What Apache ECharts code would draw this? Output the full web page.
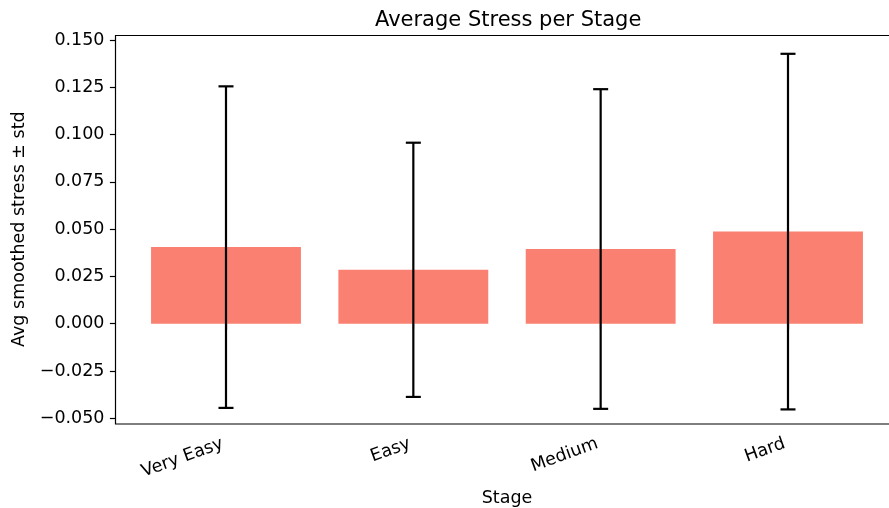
<!DOCTYPE html>
<html>
<head>
<meta charset="utf-8">
<script src="https://cdn.jsdelivr.net/npm/echarts@6/dist/echarts.min.js"></script>
<style>html,body{margin:0;padding:0;background:#fff}#c{width:889px;height:508px}</style>
</head>
<body>
<div id="c"></div>
<script>
const categories = ['Very Easy', 'Easy', 'Medium', 'Hard'];
const means = [0.0405, 0.0285, 0.0395, 0.0487];
const stds = [0.0850, 0.0672, 0.0845, 0.0940];
const yTicks = { min: -0.05, max: 0.15, interval: 0.025 };

const FONT = 'DejaVu Sans';
const chart = echarts.init(document.getElementById('c'), null, { renderer: 'canvas' });

const errData = categories.map((c, i) => [i, means[i], stds[i]]);

function fmt(v) {
  const s = Math.abs(v).toFixed(3);
  return v < -1e-9 ? '\u2212' + s : s;
}

chart.setOption({
  animation: false,
  backgroundColor: '#fff',
  title: {
    text: 'Average Stress per Stage',
    left: 370, top: 5,
    textStyle: { fontFamily: FONT, fontSize: 21, fontWeight: 'normal', color: '#000' }
  },
  grid: { left: 132.33, width: 749.33, top: 40, height: 378.3, containLabel: false, outerBoundsMode: 'none' },
  xAxis: {
    type: 'category',
    data: categories,
    offset: 5.7,
    axisLine: { show: false },
    axisTick: { show: true, alignWithLabel: true, length: 5.6, lineStyle: { color: '#000', width: 1.2 } },
    axisLabel: { rotate: 20, fontFamily: FONT, fontSize: 17.5, color: '#000', margin: 18, padding: [0, 3.5, 0, 0], interval: 0 },
    name: 'Stage',
    nameLocation: 'middle',
    nameGap: 65,
    nameTextStyle: { fontFamily: FONT, fontSize: 17.5, color: '#000' }
  },
  yAxis: {
    type: 'value',
    min: yTicks.min, max: yTicks.max, interval: yTicks.interval,
    offset: 16.83,
    axisLine: { show: false },
    splitLine: { show: false },
    axisTick: { show: true, length: 5.6, lineStyle: { color: '#000', width: 1.2 } },
    axisLabel: { fontFamily: FONT, fontSize: 17.5, color: '#000', margin: 11, formatter: fmt },
    name: 'Avg smoothed stress \u00b1 std',
    nameLocation: 'middle',
    nameGap: 80,
    nameTextStyle: { fontFamily: FONT, fontSize: 17.5, color: '#000' }
  },
  graphic: [{
    type: 'polyline',
    shape: { points: [[895, 35.5], [115.5, 35.5], [115.5, 424], [895, 424]] },
    style: { stroke: '#000', lineWidth: 1.2, fill: null },
    z: 10
  }],
  series: [
    {
      type: 'bar',
      data: means,
      barWidth: '80%',
      itemStyle: { color: '#FA8072' },
      z: 2
    },
    {
      type: 'custom',
      data: errData,
      z: 5,
      renderItem: function (params, api) {
        const i = api.value(0), m = api.value(1), s = api.value(2);
        const top = api.coord([i, m + s]);
        const bot = api.coord([i, m - s]);
        const hw = 7.5;
        const st = { stroke: '#000', lineWidth: 2.2 };
        return {
          type: 'group',
          children: [
            { type: 'line', shape: { x1: top[0], y1: top[1], x2: bot[0], y2: bot[1] }, style: st },
            { type: 'line', shape: { x1: top[0] - hw, y1: top[1], x2: top[0] + hw, y2: top[1] }, style: st },
            { type: 'line', shape: { x1: bot[0] - hw, y1: bot[1], x2: bot[0] + hw, y2: bot[1] }, style: st }
          ]
        };
      }
    }
  ]
});
</script>
</body>
</html>
